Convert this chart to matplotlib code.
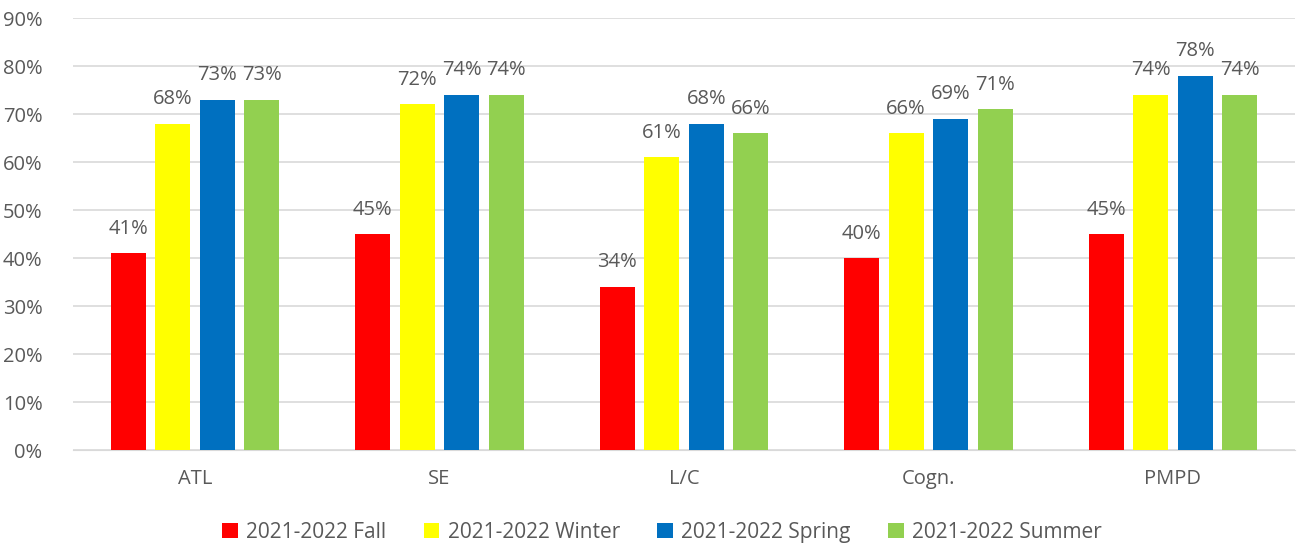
import matplotlib.pyplot as plt
import numpy as np

plt.rcParams['font.family'] = ['Open Sans', 'DejaVu Sans']

categories = ['ATL', 'SE', 'L/C', 'Cogn.', 'PMPD']
series = ['2021-2022 Fall', '2021-2022 Winter', '2021-2022 Spring', '2021-2022 Summer']
fall = [41, 45, 34, 40, 45]
winter = [68, 72, 61, 66, 74]
spring = [73, 74, 68, 69, 78]
summer = [73, 74, 66, 71, 74]
colors = ['#FF0000', '#FFFF00', '#0070C0', '#92D050']

fig = plt.figure(figsize=(12.98, 5.48), dpi=100)
ax = fig.add_axes([73 / 1298, 98 / 548, 1222 / 1298, 432 / 548])

x = np.arange(len(categories))
step = 0.182
width = 0.143
for i, (vals, name, c) in enumerate(zip([fall, winter, spring, summer], series, colors)):
    pos = x + (i - 1.5) * step
    ax.bar(pos, vals, width, color=c, label=name, zorder=3)
    for p, v in zip(pos, vals):
        ax.text(p, v + 3.0, f'{v}%', ha='center', va='bottom', fontsize=14.5, color='#595959')

ax.set_ylim(0, 90)
ax.set_xlim(-0.5, 4.5)
ax.set_yticks(range(0, 91, 10))
ax.set_yticklabels([f'{v}%' for v in range(0, 91, 10)])
ax.set_xticks(x)
ax.set_xticklabels(categories)
ax.tick_params(axis='both', labelsize=14.5, colors='#595959', length=0)
ax.tick_params(axis='y', pad=22)
ax.tick_params(axis='x', pad=14)
ax.grid(axis='y', color='#D9D9D9', linewidth=1.2, zorder=0)
for s in ['top', 'right', 'left']:
    ax.spines[s].set_visible(False)
ax.spines['bottom'].set_color('#D9D9D9')

fig.legend(loc='lower center', ncol=4, frameon=False, fontsize=15, bbox_to_anchor=(0.51, -0.025),
           handlelength=0.75, handleheight=0.75, columnspacing=1.8, handletextpad=0.4,
           labelcolor='#595959')

plt.savefig('out.png', dpi=100)
